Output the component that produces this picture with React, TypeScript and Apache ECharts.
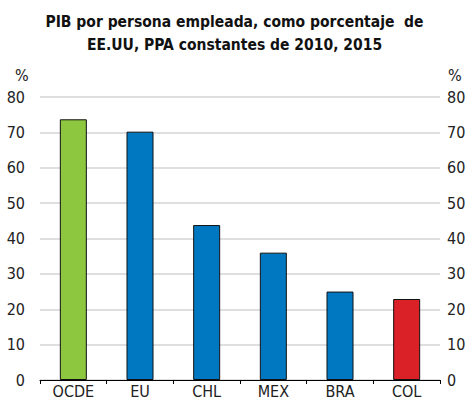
import React, { useEffect, useRef } from "react";
import * as echarts from "echarts";

const categories = ["OCDE", "EU", "CHL", "MEX", "BRA", "COL"];
const values = [73.7, 70.2, 43.8, 36.0, 25.0, 22.9];
const barColors = ["#8DC63F", "#0078C1", "#0078C1", "#0078C1", "#0078C1", "#DA2128"];
const titleLines = [
  "PIB por persona empleada, como porcentaje  de",
  "EE.UU, PPA constantes de 2010, 2015",
];
const unitLabel = "%";

const FONT = "'Liberation Sans Narrow', 'Arial Narrow', 'DejaVu Sans Condensed', sans-serif";

export default function App() {
  const ref = useRef<HTMLDivElement>(null);
  useEffect(() => {
    if (!ref.current) return;
    const chart = echarts.init(ref.current, null, { renderer: "svg" });
    const axisLabel = { fontFamily: FONT, fontSize: 16, color: "#222" };
    chart.setOption({
      animation: false,
      title: {
        text: titleLines.join("\n"),
        left: "center",
        top: 5,
        textStyle: {
          fontFamily: FONT,
          fontSize: 15.5,
          fontWeight: "bold",
          color: "#111",
          lineHeight: 23,
        },
      },
      grid: { left: 40, right: 29, top: 97, bottom: 21 },
      xAxis: {
        type: "category",
        data: categories,
        axisLine: { lineStyle: { color: "#000", width: 1 } },
        axisTick: { show: true, length: 4, lineStyle: { color: "#000" } },
        axisLabel: { ...axisLabel, margin: 3 },
      },
      yAxis: [
        {
          type: "value",
          min: 0,
          max: 80,
          interval: 10,
          position: "left",
          axisLine: { show: false },
          axisTick: { show: false },
          splitLine: { lineStyle: { color: "#D4D4D4", width: 1.5 } },
          axisLabel: { ...axisLabel, margin: 15 },
        },
        {
          type: "value",
          min: 0,
          max: 80,
          interval: 10,
          position: "right",
          axisLine: { show: false },
          axisTick: { show: false },
          splitLine: { show: false },
          axisLabel: { ...axisLabel, margin: 7 },
        },
      ],
      graphic: [
        {
          type: "text",
          left: 15,
          top: 67,
          style: { text: unitLabel, fontFamily: FONT, fontSize: 16, fill: "#222" },
        },
        {
          type: "text",
          left: 448,
          top: 67,
          style: { text: unitLabel, fontFamily: FONT, fontSize: 16, fill: "#222" },
        },
      ],
      series: [
        {
          type: "bar",
          barWidth: 27,
          data: values.map((v, i) => ({
            value: v,
            itemStyle: { color: barColors[i], borderColor: "#111", borderWidth: 1 },
          })),
        },
      ],
    });
    return () => chart.dispose();
  }, []);
  return (
    <div
      ref={ref}
      style={{ position: "fixed", left: 0, top: 0, width: 469, height: 401, background: "#fff" }}
    />
  );
}
